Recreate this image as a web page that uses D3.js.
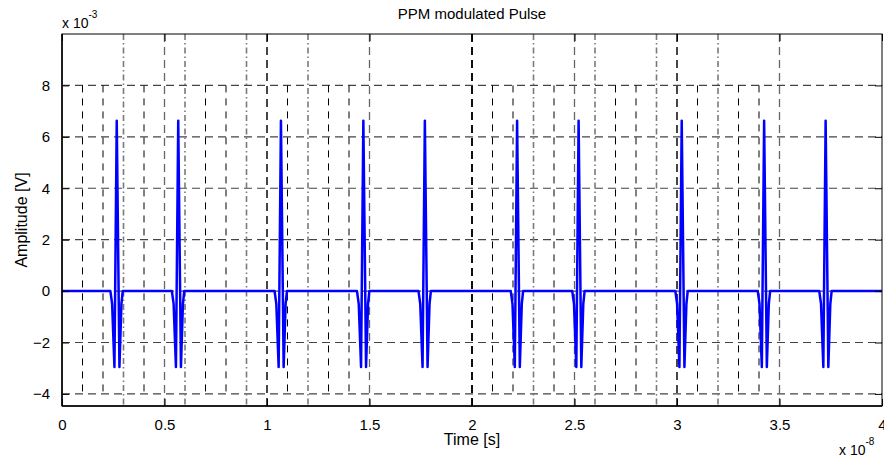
<!DOCTYPE html>
<html>
<head>
<meta charset="utf-8">
<script src="https://cdn.jsdelivr.net/npm/d3@7"></script>
<style>
  body { margin: 0; background: #fff; }
  svg { font-family: "Liberation Sans", Arial, sans-serif; }
</style>
</head>
<body>
<svg id="svg" width="884" height="459"></svg>
<script>
// time in units of 1e-8 s, amplitude in units of 1e-3 V
const xTicks = [0, 0.5, 1, 1.5, 2, 2.5, 3, 3.5, 4];
const yTicks = [-4, -2, 0, 2, 4, 6, 8];

// pulse peak times
const pulsePeaks = [0.267, 0.567, 1.068, 1.470, 1.770, 2.220, 2.520, 3.023, 3.425, 3.725];
// one pulse, sample offsets from its peak and amplitudes
const pulseOffsets = [-0.031, -0.0225, -0.0112, 0, 0.0132, 0.0229, 0.0293];
const pulseValues = [0, -0.5, -2.95, 6.63, -2.95, -0.5, 0];

// marker lines
const slotLines = [0.1, 0.2, 0.4, 0.7, 0.8, 1.1, 1.3, 1.4, 2.1, 2.2, 2.4, 2.7, 2.8, 3.1, 3.3, 3.4];
const frameLines = [0.3, 0.6, 0.9, 1.2, 2.3, 2.6, 2.9, 3.2];
const symbolLines = [1, 2, 3];
const slotRange = [-4, 8];

const margin = { top: 34, right: 2, bottom: 53, left: 62 };
const width = 884, height = 459;

const svg = d3.select("#svg");

const x = d3.scaleLinear().domain([0, 4]).range([margin.left, width - margin.right]);
const y = d3.scaleLinear().domain([-4.47, 10]).range([height - margin.bottom, margin.top]);

const plot = svg.append("g");

// grid
plot.selectAll("line.hgrid").data(yTicks).join("line")
    .attr("class", "hgrid")
    .attr("x1", x(0)).attr("x2", x(4))
    .attr("y1", d => y(d)).attr("y2", d => y(d))
    .style("stroke", "#444")
    .style("stroke-width", 1.1)
    .style("stroke-dasharray", "8,5");

plot.selectAll("line.vgrid").data(xTicks.slice(1, -1)).join("line")
    .attr("class", "vgrid")
    .attr("x1", d => x(d)).attr("x2", d => x(d))
    .attr("y1", y.range()[0]).attr("y2", y.range()[1])
    .style("stroke", "#666")
    .style("stroke-width", 1.3)
    .style("stroke-dasharray", "8,5");

// slot boundaries
plot.selectAll("line.slot").data(slotLines).join("line")
    .attr("class", "slot")
    .attr("x1", d => x(d)).attr("x2", d => x(d))
    .attr("y1", y(slotRange[1])).attr("y2", y(slotRange[0]))
    .style("stroke", "black")
    .style("stroke-width", 1)
    .style("stroke-dasharray", "7,6");

// frame boundaries
plot.selectAll("line.frame").data(frameLines).join("line")
    .attr("class", "frame")
    .attr("x1", d => x(d)).attr("x2", d => x(d))
    .attr("y1", y.range()[1]).attr("y2", y.range()[0])
    .style("stroke", "#7a7a7a")
    .style("stroke-width", 1.6)
    .style("stroke-dasharray", "6,3,1.5,3");

// symbol boundaries
plot.selectAll("line.symbol").data(symbolLines).join("line")
    .attr("class", "symbol")
    .attr("x1", d => x(d)).attr("x2", d => x(d))
    .attr("y1", y.range()[1]).attr("y2", y.range()[0])
    .style("stroke", "black")
    .style("stroke-width", d => d === 2 ? 1.8 : 1.1)
    .style("stroke-dasharray", "8,5");

// signal
const points = [[0, 0]];
pulsePeaks.forEach(p => {
    pulseOffsets.forEach((o, i) => points.push([p + o, pulseValues[i]]));
});
points.push([4, 0]);

const line = d3.line().x(d => x(d[0])).y(d => y(d[1]));
plot.append("path")
    .attr("d", line(points))
    .style("fill", "none")
    .style("stroke", "#0000ff")
    .style("stroke-width", 2.5)
    .style("stroke-linejoin", "round");

// axes box
const box = svg.append("g");
box.append("rect")
    .attr("x", x(0)).attr("y", y(10))
    .attr("width", x(4) - x(0)).attr("height", y(-4.47) - y(10))
    .style("fill", "none")
    .style("stroke", "black")
    .style("stroke-width", 1);
box.append("line")
    .attr("x1", x(0)).attr("x2", x(0)).attr("y1", y(10)).attr("y2", y(-4.47))
    .style("stroke", "black").style("stroke-width", 1.5);
box.append("line")
    .attr("x1", x(0)).attr("x2", x(4)).attr("y1", y(-4.47)).attr("y2", y(-4.47))
    .style("stroke", "black").style("stroke-width", 1.5);

// axes with inward ticks
const tickLen = 7;
const xAxis = d3.axisBottom(x).tickValues(xTicks).tickSizeInner(-tickLen).tickSizeOuter(0)
    .tickPadding(tickLen + 6).tickFormat(d3.format("~g"));
const gx = svg.append("g").attr("transform", `translate(0,${y(-4.47)})`).call(xAxis);
gx.select(".domain").remove();

const yAxis = d3.axisLeft(y).tickValues(yTicks).tickSizeInner(-tickLen).tickSizeOuter(0)
    .tickPadding(tickLen + 5).tickFormat(d3.format("~g"));
const gy = svg.append("g").attr("transform", `translate(${x(0)},0)`).call(yAxis);
gy.select(".domain").remove();

const gxTop = svg.append("g").attr("transform", `translate(0,${y(10)})`)
    .call(d3.axisTop(x).tickValues(xTicks).tickSizeInner(-tickLen).tickSizeOuter(0).tickFormat(""));
gxTop.select(".domain").remove();
const gyRight = svg.append("g").attr("transform", `translate(${x(4)},0)`)
    .call(d3.axisRight(y).tickValues(yTicks).tickSizeInner(-tickLen).tickSizeOuter(0).tickFormat(""));
gyRight.select(".domain").remove();

svg.selectAll(".tick line").style("stroke", "black");
svg.selectAll(".tick text")
    .style("font-size", "15px")
    .style("font-family", "Liberation Sans, Arial, sans-serif")
    .style("fill", "black");

// exponent labels
const ex3 = svg.append("text").attr("x", 62).attr("y", 28)
    .style("font-size", "14px");
ex3.append("tspan").text("x 10");
ex3.append("tspan").attr("dy", -10).style("font-size", "10px").text("-3");

const ex8 = svg.append("text").attr("x", 839).attr("y", 455)
    .style("font-size", "14px");
ex8.append("tspan").text("x 10");
ex8.append("tspan").attr("dy", -10).style("font-size", "10px").text("-8");

// titles
svg.append("text")
    .attr("x", (x(0) + x(4)) / 2).attr("y", 19)
    .attr("text-anchor", "middle")
    .style("font-size", "15px")
    .text("PPM modulated Pulse");

svg.append("text")
    .attr("x", (x(0) + x(4)) / 2).attr("y", 445)
    .attr("text-anchor", "middle")
    .style("font-size", "16px")
    .text("Time [s]");

svg.append("text")
    .attr("transform", `translate(27,${(y(10) + y(-4.47)) / 2}) rotate(-90)`)
    .attr("text-anchor", "middle")
    .style("font-size", "16px")
    .text("Amplitude [V]");
</script>
</body>
</html>
